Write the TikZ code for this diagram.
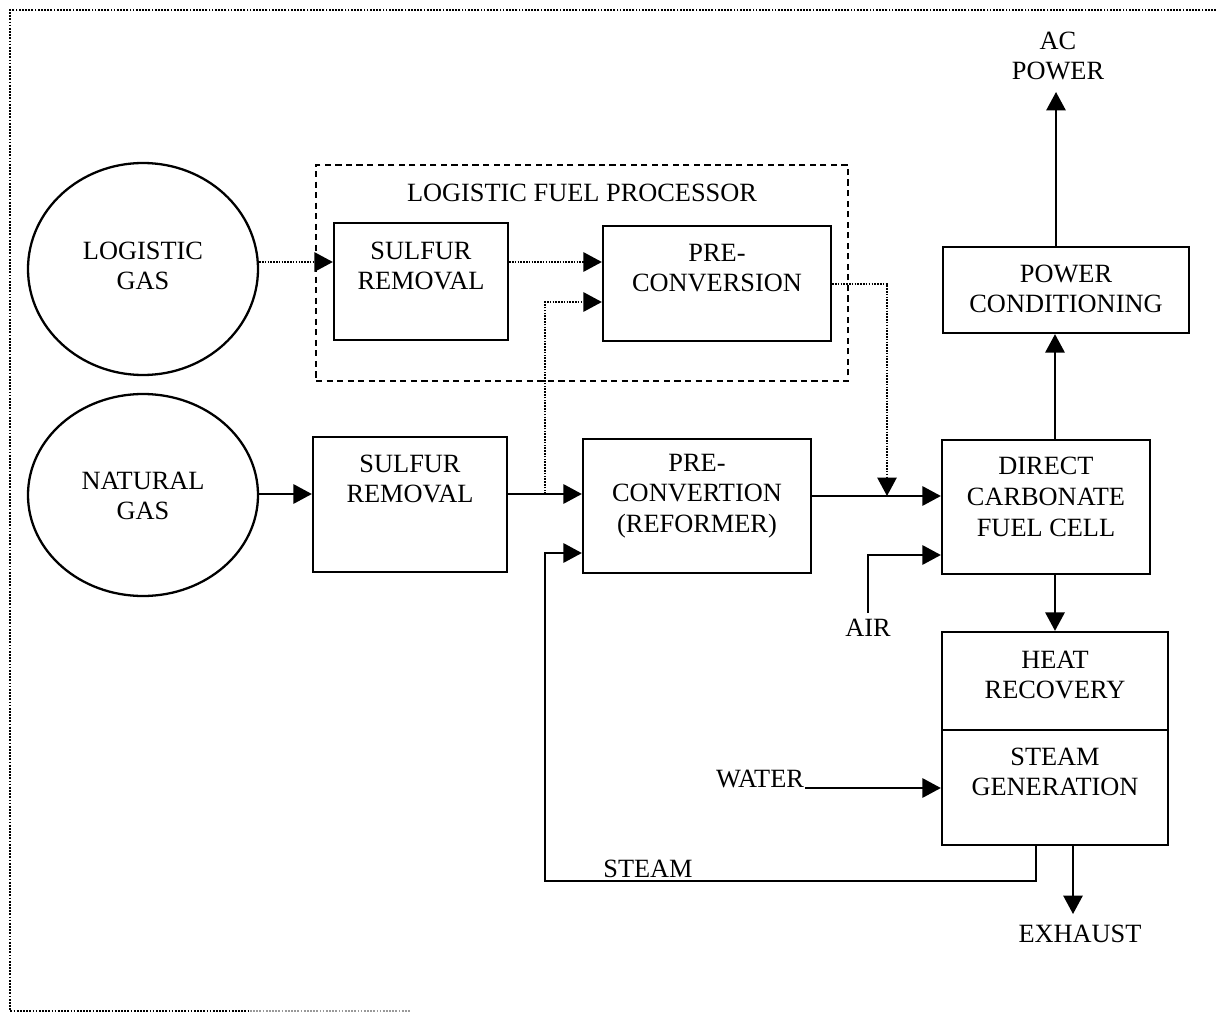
\documentclass[tikz,border=0pt]{standalone}
\usepackage{fontspec}
\setmainfont{Liberation Serif}
\usetikzlibrary{arrows.meta,calc,shapes.geometric}
\begin{document}
\begin{tikzpicture}[x=0.02cm,y=-0.02cm,
  box/.style={draw,line width=1.3pt,inner sep=0pt},
  oval/.style={draw,ellipse,line width=1.3pt,inner sep=0pt},
  txt/.style={align=center,font=\fontsize{15}{17.5}\selectfont,inner sep=0pt},
  flow/.style={line width=1.1pt,-{Triangle[length=10.5pt,width=11pt]}},
  dflow/.style={line width=1pt,dash pattern=on 0.9pt off 0.7pt,-{Triangle[length=10.5pt,width=11pt]}},
  border/.style={line width=1pt,dash pattern=on 1pt off 0.8pt},
]
\useasboundingbox (0,0) rectangle (1216,1013);

% outer frame
\draw[border] (1216,10) -- (10,10) -- (10,1011) -- (250,1011);
\draw[border,black!40] (250,1011) -- (410,1011);

% sources
\node[oval,minimum width=230*0.02cm,minimum height=212*0.02cm] (lg) at (143,269) {};
\node[oval,minimum width=230*0.02cm,minimum height=202*0.02cm] (ng) at (143,495) {};
\node[txt] (t-lg) at (143,266) {LOGISTIC\\GAS};
\node[txt] (t-ng) at (143,496) {NATURAL\\GAS};

% logistic fuel processor
\node[draw,line width=1.2pt,dash pattern=on 3.5pt off 2.5pt,inner sep=0pt,
      minimum width=532*0.02cm,minimum height=216*0.02cm] (lfp) at (582,273) {};
\node[txt] (t-lfp) at (582,193) {LOGISTIC FUEL PROCESSOR};

% boxes
\node[box,minimum width=174*0.02cm,minimum height=117*0.02cm] (sr1) at (421,281.5) {};
\node[box,minimum width=228*0.02cm,minimum height=115*0.02cm] (pc) at (717,283.5) {};
\node[box,minimum width=194*0.02cm,minimum height=135*0.02cm] (sr2) at (410,504.5) {};
\node[box,minimum width=228*0.02cm,minimum height=134*0.02cm] (ref) at (697,506) {};
\node[box,minimum width=208*0.02cm,minimum height=134*0.02cm] (fc) at (1046,507) {};
\node[box,minimum width=246*0.02cm,minimum height=86*0.02cm] (pcd) at (1066,290) {};
\node[box,minimum width=226*0.02cm,minimum height=98*0.02cm] (hr) at (1055,681) {};
\node[box,minimum width=226*0.02cm,minimum height=115*0.02cm] (sg) at (1055,787.5) {};

\node[txt] (t-sr1) at (421,266) {SULFUR\\REMOVAL};
\node[txt] (t-pc) at (717,268) {PRE-\\CONVERSION};
\node[txt] (t-sr2) at (410,479) {SULFUR\\REMOVAL};
\node[txt] (t-ref) at (697,496) {PRE-\\CONVERTION\\(REFORMER)};
\node[txt] (t-fc) at (1046,497) {DIRECT\\CARBONATE\\FUEL CELL};
\node[txt] (t-pcd) at (1066,289) {POWER\\CONDITIONING};
\node[txt] (t-hr) at (1055,675) {HEAT\\RECOVERY};
\node[txt] (t-sg) at (1055,772) {STEAM\\GENERATION};

% free labels
\node[txt] (t-ac) at (1058,56) {AC\\POWER};
\node[txt] (t-air) at (868,628) {AIR};
\node[txt] (t-water) at (760,779) {WATER};
\node[txt] (t-steam) at (648,869) {STEAM};
\node[txt] (t-exh) at (1080,934) {EXHAUST};

% coordinates
\coordinate (lga) at (0,262);
\coordinate (br) at (545,494);
\coordinate (brt) at (545,302);
\coordinate (pcx) at (887,284);
\coordinate (mj) at (887,496);
\coordinate (airb) at (868,613);
\coordinate (airt) at (868,555);
\coordinate (fcup) at (1055,0);
\coordinate (acx) at (1056,92);
\coordinate (wat) at (805,788);
\coordinate (s1) at (1036,881);
\coordinate (s2) at (545,881);
\coordinate (s3) at (545,553);
\coordinate (ex) at (1073,914);

% logistic path (dotted)
\draw[dflow] (lg.east |- lga) -- (lga -| sr1.west);
\draw[dflow] (sr1.east |- lga) -- (lga -| pc.west);
\draw[dflow] (br) -- (brt) -- (brt -| pc.west);
\draw[dflow] (pc.east |- pcx) -- (pcx) -- (mj);

% natural gas path
\draw[flow] (ng.east |- br) -- (br -| sr2.west);
\draw[flow] (sr2.east |- br) -- (br -| ref.west);
\draw[flow] (ref.east |- mj) -- (mj -| fc.west);

% air
\draw[flow] (airb) -- (airt) -- (airt -| fc.west);

% power
\draw[flow] (fcup |- fc.north) -- (fcup |- pcd.south);
\draw[flow] (acx |- pcd.north) -- (acx);

% heat recovery
\draw[flow] (fcup |- fc.south) -- (fcup |- hr.north);
\draw[flow] (wat) -- (wat -| sg.west);
\draw[flow] (s1 |- sg.south) -- (s1) -- (s2) -- (s3) -- (s3 -| ref.west);
\draw[flow] (ex |- sg.south) -- (ex);
\end{tikzpicture}
\end{document}
